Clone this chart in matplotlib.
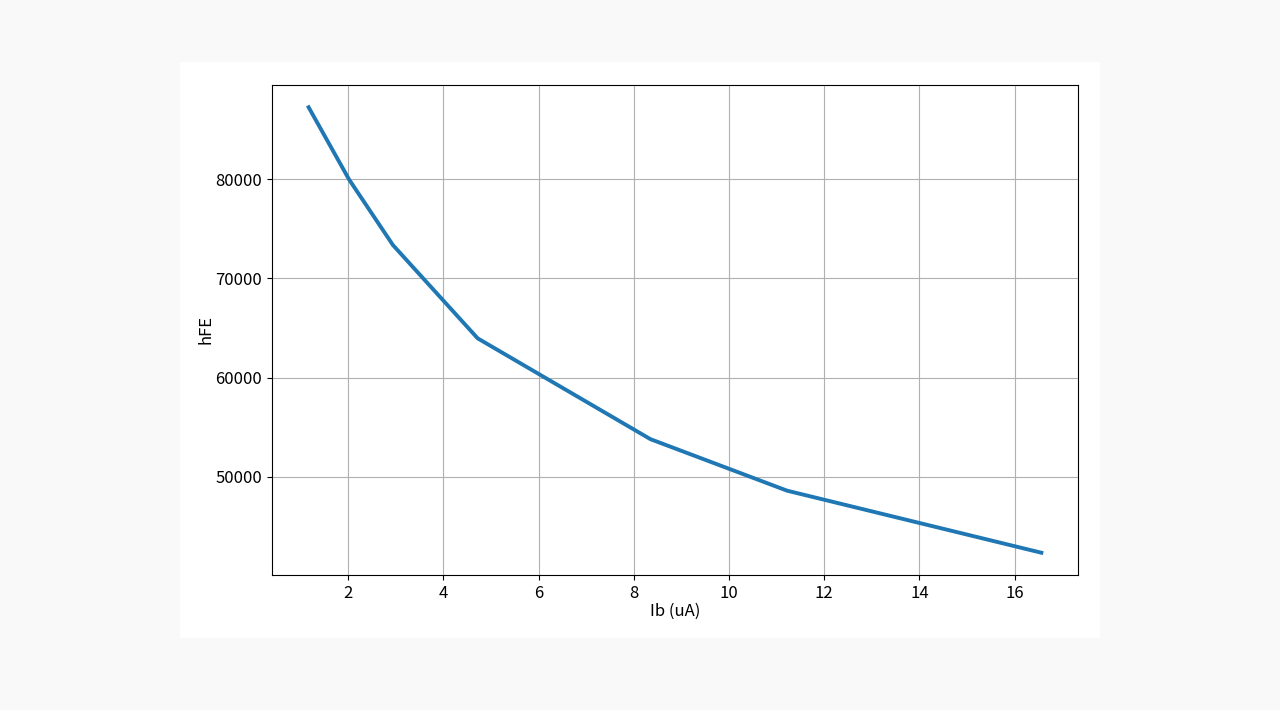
import matplotlib
matplotlib.use('Agg')
import matplotlib.pyplot as plt
from matplotlib.patches import Rectangle

plt.rcParams['font.family'] = ['Noto Sans CJK SC', 'DejaVu Sans']
plt.rcParams['axes.unicode_minus'] = False

# base current (uA) and current gain
ib = [1.17, 2.02, 2.94, 4.72, 8.35, 11.22, 16.56]
hfe = [87230, 79950, 73350, 63950, 53790, 48600, 42350]

fig = plt.figure(figsize=(12.8, 7.1), dpi=100, facecolor='#f9f9f9')

# white panel the chart sits on, kept behind the axes
fig.patches.append(Rectangle((180 / 1280, 1 - 638 / 710), 920 / 1280, 576 / 710,
                             transform=fig.transFigure, facecolor='white',
                             edgecolor='none', zorder=-10))

ax = fig.add_axes([272 / 1280, 1 - 575 / 710, 806 / 1280, 490 / 710])
ax.set_zorder(1)
ax.plot(ib, hfe, color='#1f77b4', linewidth=2.8)
ax.grid(True, color='#b0b0b0', linewidth=0.8)
ax.set_xticks([2, 4, 6, 8, 10, 12, 14, 16])
ax.set_yticks([50000, 60000, 70000, 80000])
ax.tick_params(labelsize=12)
ax.set_xlabel('Ib (uA)', fontsize=12, labelpad=1)
ax.set_ylabel('hFE', fontsize=12, labelpad=0.5)

fig.savefig('out.png', dpi=100, facecolor=fig.get_facecolor())
